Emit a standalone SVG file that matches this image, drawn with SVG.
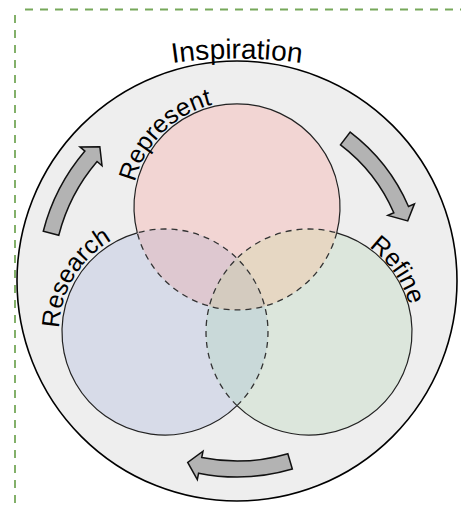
<svg xmlns="http://www.w3.org/2000/svg" width="461" height="510" viewBox="0 0 461 510">
<defs>
<style>
.lbl{font-family:"Liberation Sans",Arial,sans-serif;font-size:25px;fill:#000}
.big{font-size:28px}
.solid{fill:none;stroke:#222;stroke-width:1.2}
.dash{fill:none;stroke:#333;stroke-width:1.3;stroke-dasharray:6 5}
.arrow{fill:#b3b3b3;stroke:#111;stroke-width:1.5;stroke-linejoin:miter}
.frame{stroke:#76a85a;stroke-width:1.8;stroke-dasharray:8 7;fill:none}
</style>
<path id="pInsp" d="M-213,508.5 A450 450 0 0 1 687,508.5"/>
<path id="pRep" d="M162.05,281.95 A106 106 0 0 1 311.95,132.05"/>
<path id="pRes" d="M110.4,422.9 A106 106 0 0 1 219.6,241.1"/>
<path id="pRef" d="M248.2,245.2 A106 106 0 0 1 369.8,418.8"/>
</defs>
<g id="frame">
<line class="frame" x1="25" y1="9.5" x2="461" y2="9.5"/>
<line class="frame" x1="15" y1="15" x2="15" y2="510"/>
</g>
<g id="inspiration">
<circle cx="237" cy="281" r="220" fill="#eeeeee" stroke="#000" stroke-width="1.6"/>
<text class="lbl big"><textPath href="#pInsp" startOffset="50%" text-anchor="middle">Inspiration</textPath></text>
</g>
<g id="represent">
<circle cx="237" cy="207" r="103" fill="#f2d5d3"/>
</g>
<g id="research">
<circle cx="165" cy="332" r="103" fill="#d7dbe8"/>
</g>
<g id="refine">
<circle cx="309" cy="332" r="103" fill="#dce6dc"/>
</g>
<g id="overlaps">
<path fill="#dec8d0" d="M137.3,232.8 A103 103 0 0 1 264.7,306.2 A103 103 0 0 1 137.3,232.8 Z"/>
<path fill="#e6d7c3" d="M336.7,232.8 A103 103 0 0 1 209.3,306.2 A103 103 0 0 1 336.7,232.8 Z"/>
<path fill="#c9d9d9" d="M237,258.35 A103 103 0 0 0 237,405.65 A103 103 0 0 0 237,258.35 Z"/>
<path fill="#d4cbbf" d="M209.3,306.2 A103 103 0 0 0 264.7,306.2 A103 103 0 0 0 237,258.35 A103 103 0 0 0 209.3,306.2 Z"/>
</g>
<g id="outlines">
<path class="solid" d="M137.3,232.8 A103 103 0 1 1 336.7,232.8"/>
<path class="solid" d="M137.3,232.8 A103 103 0 1 0 237,405.65"/>
<path class="solid" d="M336.7,232.8 A103 103 0 1 1 237,405.65"/>
<path class="dash" d="M336.7,232.8 A103 103 0 0 1 137.3,232.8"/>
<path class="dash" d="M237,405.65 A103 103 0 0 0 137.3,232.8"/>
<path class="dash" d="M237,405.65 A103 103 0 0 1 336.7,232.8"/>
</g>
<g id="labels">
<text class="lbl"><textPath href="#pRep" startOffset="50%" text-anchor="middle">Represent</textPath></text>
<text class="lbl"><textPath href="#pRes" startOffset="50%" text-anchor="middle">Research</textPath></text>
<text class="lbl"><textPath href="#pRef" startOffset="50%" text-anchor="middle">Refine</textPath></text>
</g>
<g id="connectors">
<path class="arrow" d="M43.28,231.26 A200 200 0 0 1 84.92,151.11 L79.98,146.89 L99.82,146.67 L102.03,165.72 L97.08,161.50 A184 184 0 0 0 58.78,235.24 Z"/>
<path class="arrow" d="M350.19,132.15 A187 187 0 0 1 408.49,206.43 L414.45,203.84 L407.73,220.88 L387.86,215.41 L393.82,212.81 A171 171 0 0 0 340.50,144.88 Z"/>
<path class="arrow" d="M292.34,469.02 A196 196 0 0 1 198.59,473.20 L197.32,479.57 L187.71,462.42 L203.00,451.14 L201.73,457.51 A180 180 0 0 0 287.82,453.68 Z"/>
</g>
</svg>
